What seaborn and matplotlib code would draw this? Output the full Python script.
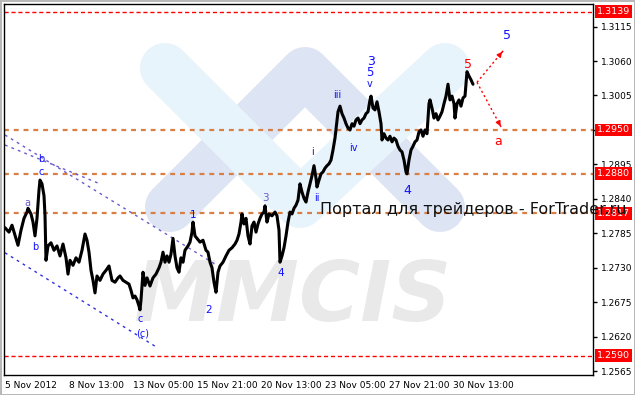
import matplotlib
matplotlib.use("Agg")
import matplotlib.pyplot as plt
import matplotlib.transforms as mtransforms
from matplotlib.lines import Line2D
import numpy as np
import pandas as pd
import seaborn as sns

# ---------------- data ----------------
bar_index = [0, 4, 7, 10, 13, 16, 19, 22, 23, 26, 28, 30, 32, 34, 35, 37, 39, 40, 41, 43,
             46, 49, 52, 55, 58, 61, 63, 65, 68, 71, 74, 77, 80, 82, 84, 86, 88, 90, 92, 95,
             98, 101, 104, 107, 110, 113, 115, 118, 121, 124, 126, 128, 130, 132, 134, 135, 136, 138, 140, 142,
             145, 148, 151, 154, 156, 158, 160, 162, 164, 166, 168, 170, 172, 174, 176, 178, 180, 183, 185, 187,
             188, 190, 192, 195, 198, 201, 203, 205, 207, 209, 211, 213, 215, 218, 221, 224, 227, 230, 232, 234,
             236, 237, 239, 241, 243, 245, 247, 249, 251, 253, 255, 257, 259, 260, 262, 264, 267, 270, 272, 274,
             275, 277, 279, 281, 283, 285, 287, 289, 291, 293, 295, 297, 299, 301, 303, 305, 307, 309, 311, 312,
             314, 316, 318, 320, 322, 324, 326, 328, 330, 332, 333, 335, 337, 339, 341, 343, 345, 347, 349, 351,
             353, 355, 357, 359, 361, 363, 365, 366, 368, 370, 372, 374, 376, 377, 379, 381, 383, 385, 387, 389,
             391, 393, 395, 397, 399, 401, 402, 404, 406, 408, 410, 412, 414, 416, 418, 420, 422, 424, 425, 427,
             429, 431, 433, 435, 437, 439, 441, 443, 445, 447, 449, 450, 452, 454, 456, 458, 460, 462, 464, 466,
             468]
close_price = [1.2794, 1.2787, 1.2798, 1.2782, 1.2766, 1.2790, 1.2809, 1.2819, 1.2825, 1.2816,
               1.2803, 1.2781, 1.2809, 1.2854, 1.2870, 1.2864, 1.2845, 1.2814, 1.2742, 1.2765,
               1.2770, 1.2758, 1.2765, 1.2749, 1.2768, 1.2746, 1.2720, 1.2742, 1.2734, 1.2746,
               1.2739, 1.2758, 1.2784, 1.2774, 1.2755, 1.2726, 1.2710, 1.2690, 1.2717, 1.2710,
               1.2720, 1.2726, 1.2733, 1.2710, 1.2707, 1.2714, 1.2717, 1.2710, 1.2707, 1.2704,
               1.2694, 1.2682, 1.2685, 1.2679, 1.2669, 1.2663, 1.2679, 1.2723, 1.2702, 1.2714,
               1.2701, 1.2714, 1.2720, 1.2730, 1.2739, 1.2755, 1.2739, 1.2749, 1.2739, 1.2752,
               1.2777, 1.2749, 1.2730, 1.2723, 1.2746, 1.2739, 1.2758, 1.2765, 1.2771, 1.2787,
               1.2803, 1.2781, 1.2777, 1.2771, 1.2774, 1.2758, 1.2755, 1.2739, 1.2730, 1.2707,
               1.2691, 1.2723, 1.2733, 1.2739, 1.2749, 1.2758, 1.2762, 1.2768, 1.2774, 1.2784,
               1.2803, 1.2816, 1.2800, 1.2809, 1.2781, 1.2768, 1.2797, 1.2803, 1.2787, 1.2800,
               1.2809, 1.2816, 1.2819, 1.2829, 1.2803, 1.2816, 1.2813, 1.2819, 1.2813, 1.2790,
               1.2739, 1.2749, 1.2762, 1.2781, 1.2803, 1.2819, 1.2816, 1.2825, 1.2830, 1.2838,
               1.2864, 1.2851, 1.2841, 1.2835, 1.2851, 1.2864, 1.2877, 1.2893, 1.2873, 1.2859,
               1.2870, 1.2880, 1.2883, 1.2889, 1.2893, 1.2896, 1.2902, 1.2918, 1.2937, 1.2966,
               1.2979, 1.2988, 1.2976, 1.2969, 1.2960, 1.2953, 1.2950, 1.2960, 1.2956, 1.2966,
               1.2969, 1.2960, 1.2966, 1.2969, 1.2976, 1.2979, 1.2998, 1.3004, 1.2985, 1.2982,
               1.2995, 1.2979, 1.2960, 1.2934, 1.2944, 1.2937, 1.2934, 1.2940, 1.2931, 1.2937,
               1.2934, 1.2924, 1.2918, 1.2915, 1.2902, 1.2883, 1.2880, 1.2902, 1.2918, 1.2924,
               1.2931, 1.2934, 1.2947, 1.2950, 1.2940, 1.2950, 1.2944, 1.2992, 1.2998, 1.2985,
               1.2969, 1.2976, 1.2966, 1.2972, 1.2979, 1.2992, 1.3004, 1.3023, 1.2998, 1.3004,
               1.2992, 1.2969, 1.2992, 1.2998, 1.2988, 1.3001, 1.3004, 1.3043, 1.3036, 1.3030,
               1.3023]

red_levels = [1.3139, 1.2590]
orange_levels = [1.2950, 1.2880, 1.2817]

ytick_values = [1.2565, 1.2620, 1.2675, 1.2730, 1.2785, 1.2840, 1.2895, 1.2950, 1.3005, 1.3060, 1.3115]
xtick_bars = [0, 64, 128, 192, 256, 320, 384, 448]
xtick_labels = ["5 Nov 2012", "8 Nov 13:00", "13 Nov 05:00", "15 Nov 21:00",
                "20 Nov 13:00", "23 Nov 05:00", "27 Nov 21:00", "30 Nov 13:00"]

# channel lines (bar, price)
channel_a_bars = [0, 212]
channel_a_prices = [1.2942, 1.2734]
channel_b_bars = [0, 95]
channel_b_prices = [1.2926, 1.2864]
channel_c_bars = [0, 153]
channel_c_prices = [1.2754, 1.2602]

# forecast arrows
forecast_start = (472, 1.3026)
forecast_up = (499, 1.3078)
forecast_down = (497, 1.2952)

BLUE = "#1010ff"
SLATE = "#6a5acd"
RED = "#ff0000"
# wave labels: text, bar, price, colour, size
wave_text = ["a", "b", "c", "b", "c", "(c)", "1", "2", "3", "4", "i", "ii", "iii", "iv",
             "v", "5", "3", "4", "5", "5", "a"]
wave_bar = [22, 36, 36, 30, 135, 138, 188, 204, 260, 276, 308, 312, 332, 348,
            365, 365, 366, 402, 463, 502, 493]
wave_price = [1.2834, 1.2903, 1.2883, 1.2763, 1.2648, 1.2625, 1.2814, 1.2663, 1.2841, 1.2722,
              1.2915, 1.2841, 1.3006, 1.2921, 1.3023, 1.3041, 1.3060, 1.2853, 1.3055, 1.3100, 1.2932]
wave_color = [SLATE, BLUE, BLUE, BLUE, BLUE, BLUE, BLUE, BLUE, SLATE, BLUE, BLUE, BLUE, BLUE, BLUE,
              BLUE, BLUE, BLUE, BLUE, RED, BLUE, RED]
wave_size = [7, 7, 7, 7, 7, 7, 7.5, 7.5, 7.5, 7.5, 7, 7, 7, 7,
             7, 8.5, 9, 9, 9, 9, 9]

# ---------------- figure ----------------
sns.set_style("white")
plt.rcParams["font.family"] = ["DejaVu Sans"]

W, H = 635, 395
fig = plt.figure(figsize=(W / 100, H / 100), dpi=100)
fig.patch.set_facecolor("white")
fig.patch.set_edgecolor("#b8b8b8")
fig.patch.set_linewidth(2)
ax = fig.add_axes([4 / W, 20 / H, 589 / W, 371 / H])
ax.set_facecolor("white")


def fp(px, py):
    return px / W, 1 - py / H


# watermark chevrons (logo decoration)
dark = Line2D(*zip(fp(170, 207), fp(305, 72), fp(440, 207)), transform=fig.transFigure,
              color="#dde4f3", lw=36, solid_capstyle="round", solid_joinstyle="round", zorder=0.2)
light = Line2D(*zip(fp(165, 68), fp(300, 203), fp(445, 68)), transform=fig.transFigure,
               color="#e8f4fb", lw=36, solid_capstyle="round", solid_joinstyle="round", zorder=0.3)
ax.add_line(dark)
ax.add_line(light)
ax.text(*fp(292, 298), "MMCIS", transform=fig.transFigure, ha="center", va="center",
        fontsize=60, fontweight="bold", style="italic", color="#e9e9e9", zorder=0.4)

# levels
for lv in red_levels:
    ax.axhline(lv, color=RED, lw=1, ls=(0, (3, 2)), zorder=1)
for lv in orange_levels:
    ax.axhline(lv, color="#d97f45", lw=1.6, ls=(0, (2.2, 2.2)), zorder=1)

# channel lines
ax.plot(channel_a_bars, channel_a_prices, color=SLATE, lw=1, ls=(0, (2, 3)), zorder=1.5)
ax.plot(channel_b_bars, channel_b_prices, color=SLATE, lw=1, ls=(0, (2, 3)), zorder=1.5)
ax.plot(channel_c_bars, channel_c_prices, color="#3030e0", lw=1, ls=(0, (2, 3)), zorder=1.5)

# price
df = pd.DataFrame({"bar": bar_index, "price": close_price})
sns.lineplot(data=df, x="bar", y="price", color="black", lw=2.2, ax=ax, zorder=2)

# forecast arrows
for tgt in (forecast_up, forecast_down):
    ax.plot([forecast_start[0], tgt[0]], [forecast_start[1], tgt[1]], color=RED, lw=1,
            ls=(0, (1.5, 2)), zorder=3)
    dx = tgt[0] - forecast_start[0]
    dy = tgt[1] - forecast_start[1]
    ax.annotate("", xy=tgt, xytext=(tgt[0] - dx * 0.15, tgt[1] - dy * 0.15),
                arrowprops=dict(arrowstyle="-|>", color=RED, lw=1, mutation_scale=7), zorder=3)

# wave labels
for t, b, p, c, s in zip(wave_text, wave_bar, wave_price, wave_color, wave_size):
    ax.text(b, p, t, color=c, fontsize=s, ha="center", va="center", zorder=4)

# axes
ax.set_xlim(-1, 588)
ax.set_ylim(1.2559, 1.3151)
ax.set_xlabel("")
ax.set_ylabel("")
ax.yaxis.tick_right()
ax.set_yticks(ytick_values)
ax.set_yticklabels([f"{v:.4f}" for v in ytick_values])
ax.set_xticks(xtick_bars)
ax.set_xticklabels(xtick_labels, ha="left")
ax.tick_params(axis="both", direction="out", length=3, width=1, labelsize=6.5, color="black",
               labelcolor="black", pad=1.5)
ax.tick_params(axis="y", pad=3)
for sp in ax.spines.values():
    sp.set_color("black")
    sp.set_linewidth(1)
    sp.set_visible(True)

# price level boxes on right
trans = mtransforms.blended_transform_factory(ax.transAxes, ax.transData)
for lv in red_levels + orange_levels:
    ax.text(1.007, lv, f"{lv:.4f}", transform=trans, ha="left", va="center", fontsize=6.8,
            color="white", clip_on=False, zorder=5,
            bbox=dict(boxstyle="square,pad=0.2", fc=RED, ec="none"))

# portal caption
fig.text(320 / W, 1 - 214 / H, "Портал для трейдеров - ForTrader.ru", fontsize=11.5,
         color="#111111", ha="left", va="baseline", zorder=10)

fig.savefig("out.png", dpi=100, facecolor=fig.get_facecolor(), edgecolor=fig.get_edgecolor())
